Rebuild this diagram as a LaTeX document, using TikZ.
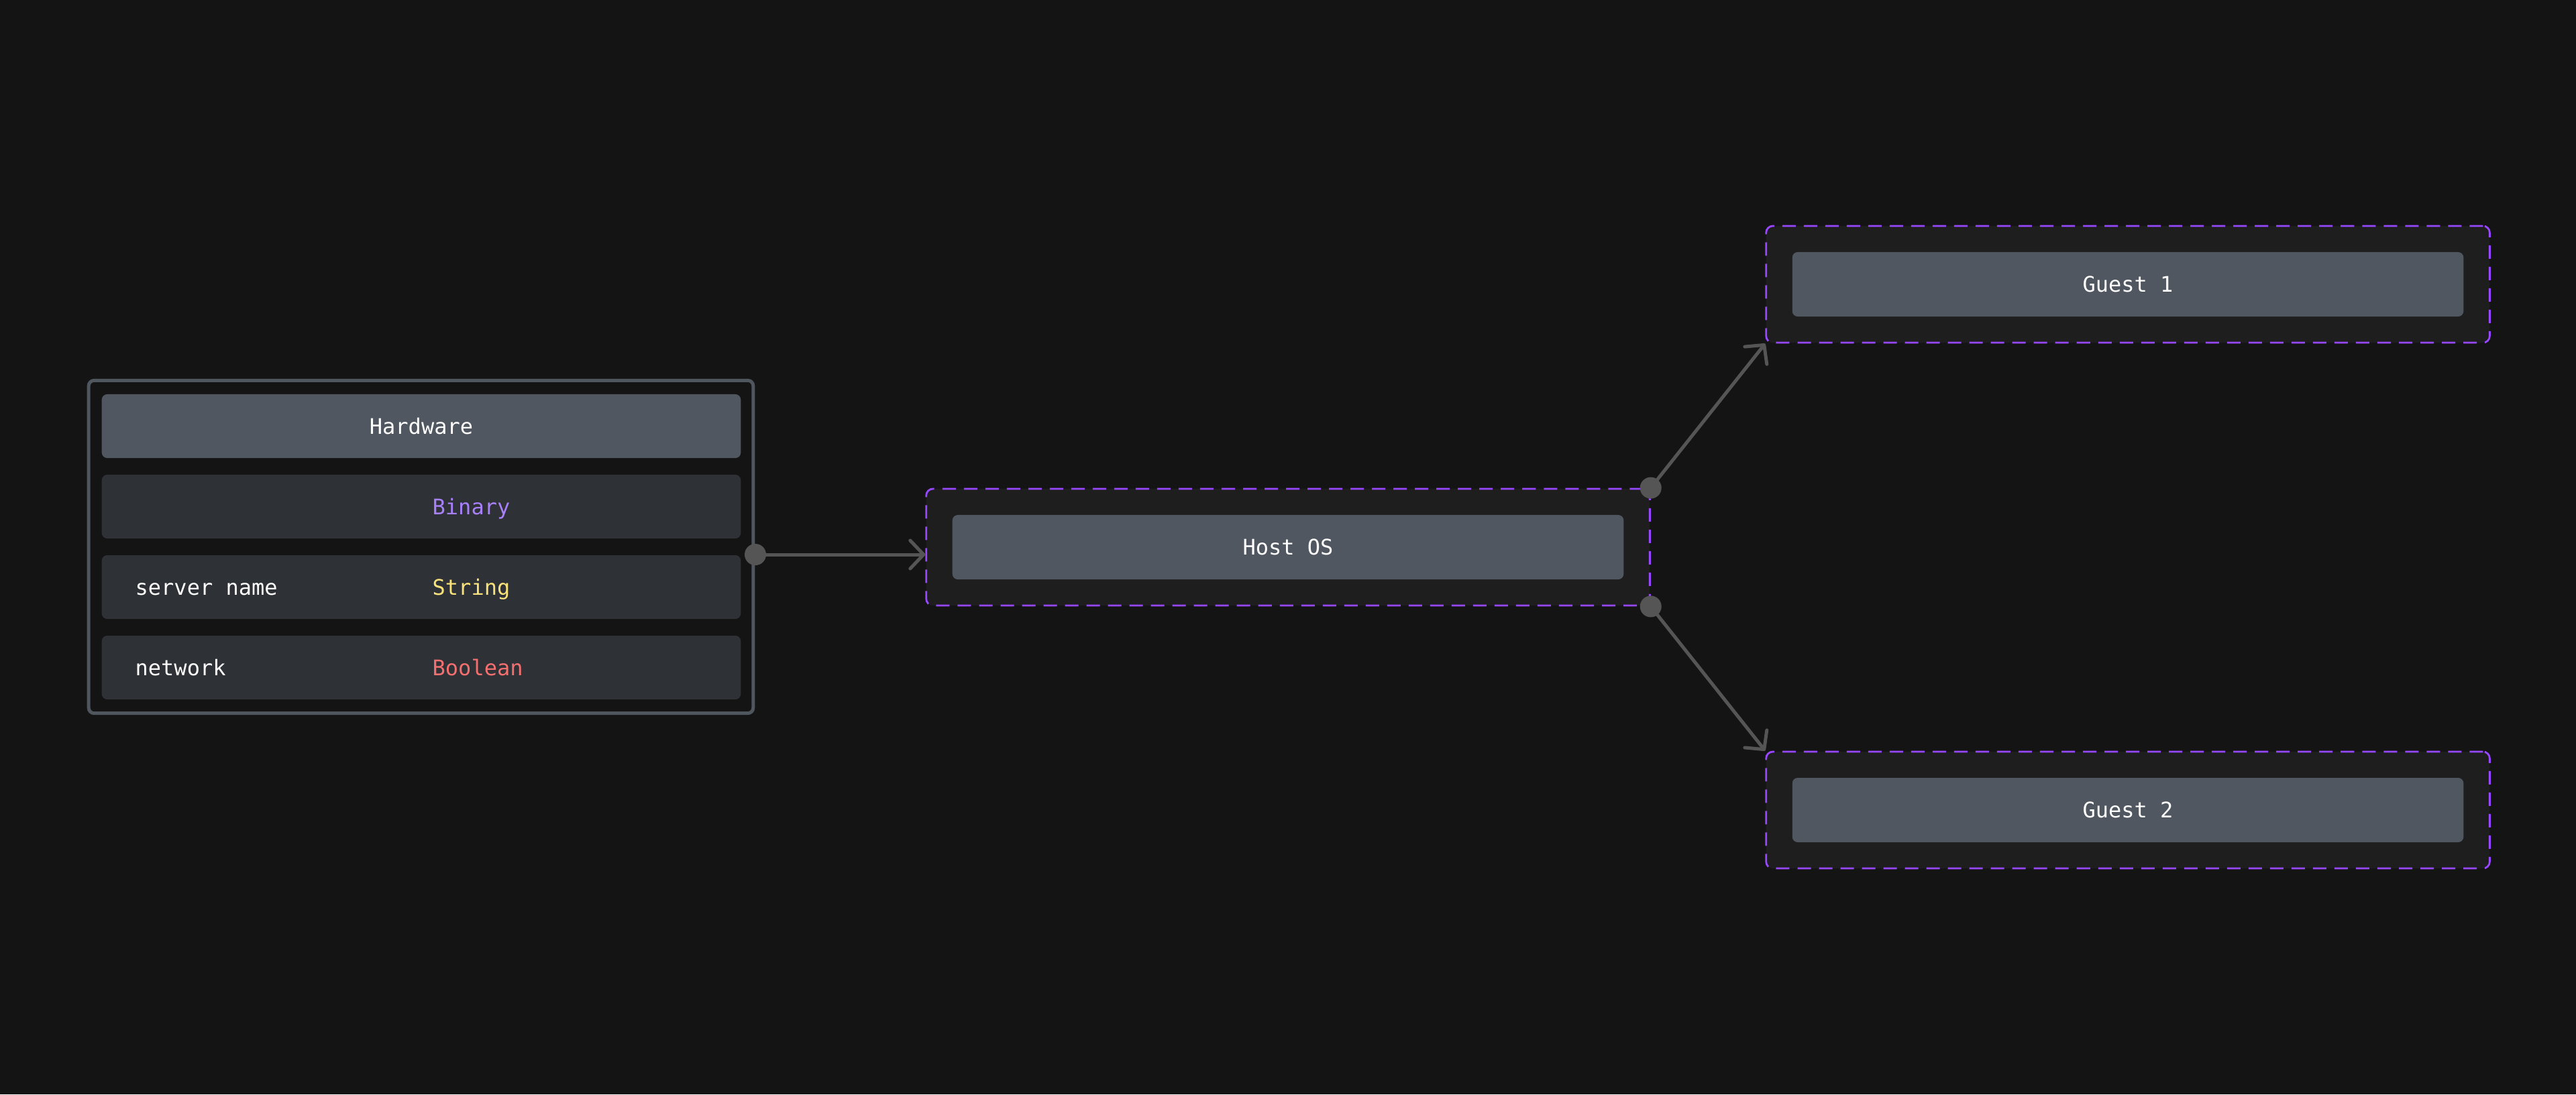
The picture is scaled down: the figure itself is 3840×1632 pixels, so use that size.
\documentclass[tikz,border=0pt]{standalone}
\usepackage{fontspec}
\newfontfamily\monofam{DejaVu Sans Mono}
\usetikzlibrary{arrows.meta,calc}
\definecolor{bgc}{RGB}{20,20,20}
\definecolor{hdrc}{RGB}{80,87,96}
\definecolor{rowc}{RGB}{46,49,53}
\definecolor{hwborder}{RGB}{79,86,94}
\definecolor{contc}{RGB}{30,30,30}
\definecolor{purp}{RGB}{151,71,255}
\definecolor{conn}{RGB}{85,85,85}
\definecolor{binc}{RGB}{167,128,250}
\definecolor{strc}{RGB}{250,226,122}
\definecolor{boolc}{RGB}{244,112,112}
\tikzset{
  txt/.style={font=\monofam\fontsize{9.1}{11}\selectfont, text=white},
  hdrbox/.style={txt, fill=hdrc, rounded corners=0.08cm, minimum width=9.52cm, minimum height=0.95cm, inner sep=0pt},
  rowbox/.style={fill=rowc, rounded corners=0.08cm, minimum width=9.52cm, minimum height=0.95cm, inner sep=0pt},
  hwouter/.style={draw=hwborder, line width=0.05cm, rounded corners=0.08cm, minimum width=9.9cm, minimum height=4.96cm, inner sep=0pt},
  contbox/.style={fill=contc, draw=purp, line width=0.028cm, dash pattern=on 0.2cm off 0.12cm, rounded corners=0.1cm, minimum width=10.78cm, minimum height=1.74cm, inner sep=0pt},
  innerbox/.style={txt, fill=hdrc, rounded corners=0.08cm, minimum width=10cm, minimum height=0.96cm, inner sep=0pt},
  fieldtxt/.style={txt, anchor=base west, inner sep=0pt},
  conline/.style={draw=conn, line width=0.05cm, line cap=round, -{Straight Barb[length=0.2cm, width=0.42cm, line cap=round, line join=round]}},
  dotc/.style={fill=conn, circle, minimum size=0.32cm, inner sep=0pt},
}
\begin{document}
\begin{tikzpicture}[x=0.01cm, y=-0.01cm]
\fill[bgc] (0,0) rectangle (3840,1632);
\useasboundingbox (0,0) rectangle (3840,1632);

% Hardware table
\node[hwouter] (hw) at (627.5,815.5) {};
\node[hdrbox] (hwhdr) at (628,635.5) {Hardware};
\node[rowbox] (row1) at (628,755.5) {};
\node[rowbox] (row2) at (628,875.5) {};
\node[rowbox] (row3) at (628,995.5) {};
\node[fieldtxt, text=binc] (t1) at (644,767) {Binary};
\node[fieldtxt] (n2) at (201,887) {server name};
\node[fieldtxt, text=strc] (t2) at (644,887) {String};
\node[fieldtxt] (n3) at (201,1007) {network};
\node[fieldtxt, text=boolc] (t3) at (644,1007) {Boolean};

% Host OS
\node[contbox] (host) at (1920,816) {};
\node[innerbox] (hostin) at (1920,816) {Host OS};

% Guests
\node[contbox] (g1) at (3172,424) {};
\node[innerbox] (g1in) at (3172,424) {Guest 1};
\node[contbox] (g2) at (3172,1208) {};
\node[innerbox] (g2in) at (3172,1208) {Guest 2};

% connectors
\coordinate (s1) at (1126,827);
\coordinate (e1) at (host.west |- s1);
\draw[conline] (s1) -- (e1);
\node[dotc] (d1) at (s1) {};

\draw[conline] (host.north east) -- (g1.south west);
\node[dotc] (d2) at (host.north east) {};
\draw[conline] (host.south east) -- (g2.north west);
\node[dotc] (d3) at (host.south east) {};
\end{tikzpicture}
\end{document}
